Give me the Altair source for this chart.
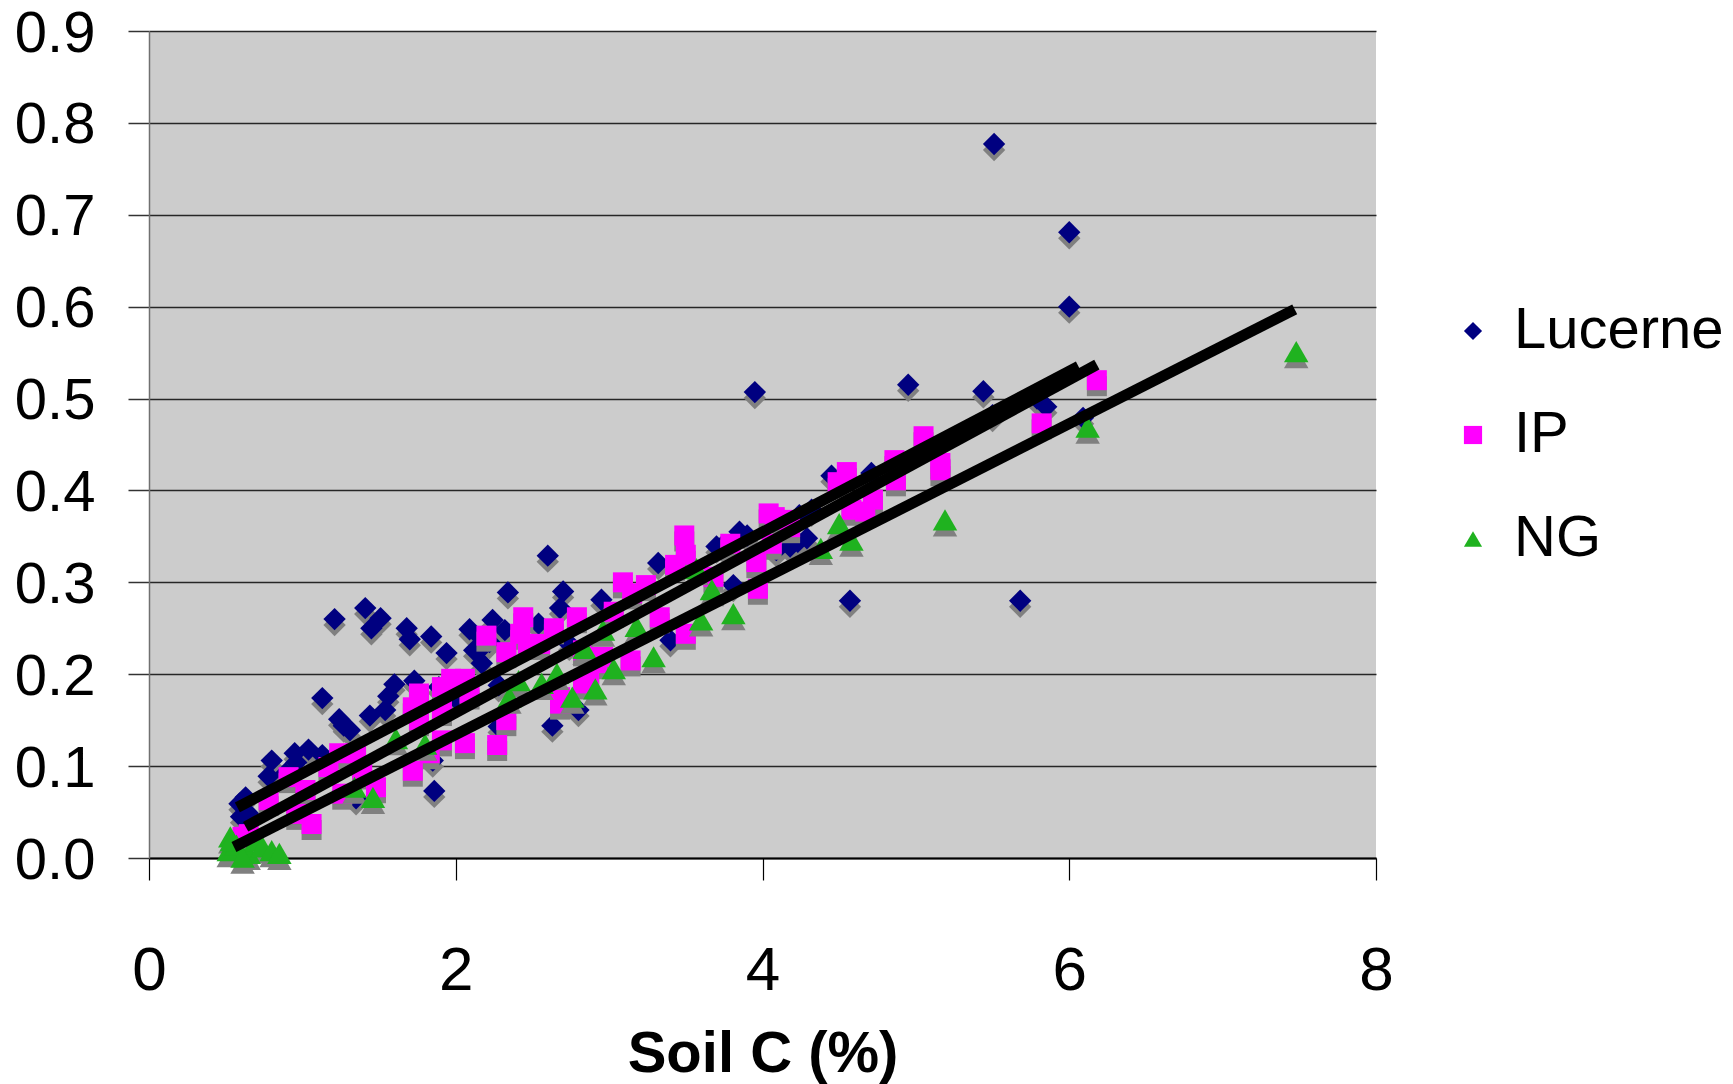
import altair as alt
import pandas as pd

# ---------------- data ----------------
lucerne_x = [5.51, 6.00, 6.00, 3.95, 4.95, 5.44, 5.85, 6.09, 5.50, 5.79,
             4.57, 5.68, 4.45, 4.71, 3.85, 3.90, 4.18, 4.29, 4.24, 3.81,
             3.70, 4.09, 3.74, 3.32, 3.40, 2.60, 2.34, 2.70, 2.68, 2.95,
             2.24, 2.09, 2.17, 2.32, 2.22, 2.14, 1.94, 2.54, 2.17, 2.28,
             2.80, 2.63, 2.74, 1.21, 1.41, 1.51, 1.45, 1.68, 1.70, 1.84,
             2.12, 1.13, 1.60, 1.56, 1.54, 1.73, 1.44, 1.24, 1.27, 1.31,
             1.04, 0.95, 0.80, 0.78, 0.96, 1.13, 1.35, 1.35, 1.86, 1.85,
             0.59, 0.63, 0.60, 0.65, 0.89, 2.01, 1.89, 4.32, 2.28, 4.23]
lucerne_y = [0.777, 0.681, 0.600, 0.507, 0.515, 0.508, 0.491, 0.479, 0.482, 0.500,
             0.280, 0.280, 0.416, 0.419, 0.355, 0.351, 0.339, 0.348, 0.373, 0.297,
             0.339, 0.335, 0.340, 0.321, 0.237, 0.329, 0.289, 0.290, 0.272, 0.281,
             0.259, 0.249, 0.239, 0.248, 0.235, 0.224, 0.223, 0.255, 0.212, 0.188,
             0.161, 0.144, 0.233, 0.260, 0.272, 0.261, 0.250, 0.250, 0.238, 0.241,
             0.226, 0.174, 0.189, 0.176, 0.161, 0.193, 0.155, 0.151, 0.144, 0.139,
             0.118, 0.114, 0.106, 0.089, 0.104, 0.112, 0.103, 0.065, 0.073, 0.106,
             0.059, 0.066, 0.045, 0.048, 0.092, 0.172, 0.186, 0.379, 0.143, 0.344]

ip_x = [0.61, 0.65, 0.78, 0.96, 1.06, 1.02, 0.91, 1.17, 1.24, 1.26,
        1.35, 1.39, 1.48, 1.72, 1.83, 1.91, 2.06, 1.76, 1.91, 1.72,
        1.76, 1.91, 1.97, 2.06, 2.09, 2.33, 2.33, 2.47, 2.42, 2.44,
        2.64, 2.79, 2.68, 2.83, 2.87, 2.96, 3.03, 3.09, 3.15, 3.24,
        3.14, 3.33, 3.50, 3.43, 3.50, 3.49, 3.79, 3.97, 3.96, 4.04,
        4.08, 4.06, 3.68, 4.18, 4.55, 4.49, 4.58, 4.72, 4.67, 4.86,
        4.87, 5.05, 5.16, 5.16, 5.82, 6.18, 2.20, 2.27, 2.68, 4.13,
        2.83, 2.55, 2.92]
ip_y = [0.023, 0.026, 0.063, 0.048, 0.037, 0.074, 0.088, 0.099, 0.114, 0.070,
        0.114, 0.092, 0.077, 0.095, 0.114, 0.128, 0.125, 0.150, 0.161, 0.164,
        0.179, 0.186, 0.195, 0.195, 0.179, 0.150, 0.224, 0.233, 0.244, 0.262,
        0.250, 0.262, 0.168, 0.190, 0.197, 0.219, 0.268, 0.300, 0.288, 0.297,
        0.215, 0.262, 0.244, 0.319, 0.330, 0.351, 0.342, 0.293, 0.322, 0.375,
        0.371, 0.342, 0.306, 0.360, 0.420, 0.409, 0.379, 0.390, 0.377, 0.433,
        0.411, 0.459, 0.430, 0.422, 0.473, 0.520, 0.242, 0.123, 0.175, 0.368,
        0.226, 0.233, 0.212]

ng_x = [0.52, 0.53, 0.57, 0.65, 0.70, 0.74, 0.80, 0.85, 0.54, 0.61,
        1.46, 1.61, 1.34, 1.80, 2.35, 2.41, 2.56, 2.66, 2.76, 2.91,
        2.84, 2.96, 3.03, 3.18, 3.29, 3.60, 3.81, 3.67, 3.57, 4.38,
        4.50, 4.58, 5.19, 6.12, 7.48]
ng_y = [0.008, 0.023, 0.014, 0.005, 0.019, 0.012, 0.008, 0.005, 0.019, 0.001,
        0.066, 0.130, 0.077, 0.124, 0.175, 0.193, 0.190, 0.201, 0.175, 0.184,
        0.228, 0.248, 0.206, 0.252, 0.219, 0.259, 0.266, 0.292, 0.315, 0.337,
        0.364, 0.346, 0.368, 0.469, 0.551]

trend_series = ["Lucerne", "Lucerne", "IP", "IP", "NG", "NG"]
trend_x = [0.576, 6.06, 0.63, 6.18, 0.554, 7.47]
trend_y = [0.055, 0.535, 0.034, 0.537, 0.012, 0.597]

series_names = ["Lucerne", "IP", "NG"]
series_colors = ["#000080", "#FF00FF", "#1FB21F"]
series_shapes = ["diamond", "square", "triangle-up"]
series_sizes = [500, 400, 600]

x_ticks = [0, 2, 4, 6, 8]
y_ticks = [0.0, 0.1, 0.2, 0.3, 0.4, 0.5, 0.6, 0.7, 0.8, 0.9]

# ---------------- tables ----------------
pts = pd.DataFrame({
    "series": ["Lucerne"] * len(lucerne_x) + ["IP"] * len(ip_x) + ["NG"] * len(ng_x),
    "x": lucerne_x + ip_x + ng_x,
    "y": lucerne_y + ip_y + ng_y,
})
trend = pd.DataFrame({"series": trend_series, "x": trend_x, "y": trend_y})

FONT = "Liberation Sans"

x_enc = alt.X("x:Q", scale=alt.Scale(domain=[0, 8], nice=False, zero=False),
              axis=alt.Axis(values=x_ticks, format="d", title="Soil C (%)", grid=False,
                            tickSize=22, tickColor="black", tickWidth=1.2,
                            domainColor="black", domainWidth=2, labelFlush=False,
                            labelPadding=60, labelFontSize=62, labelFont=FONT,
                            labelColor="black",
                            titleFont=FONT, titleFontSize=58, titleFontWeight="bold",
                            titleColor="black", titleY=213, titleBaseline="alphabetic"))
y_enc = alt.Y("y:Q", scale=alt.Scale(domain=[0, 0.9], nice=False),
              axis=alt.Axis(values=y_ticks, format=".1f", title=None, grid=True,
                            gridColor="#262626", gridWidth=1.5, labelFlush=False,
                            tickSize=21, tickColor="#333333", tickWidth=1.5,
                            domainColor="#707070", domainWidth=1.5,
                            labelPadding=33, labelFontSize=58, labelFont=FONT,
                            labelColor="black", labelOffset=3))

color_scale = alt.Scale(domain=series_names, range=series_colors)
shape_scale = alt.Scale(domain=series_names, range=series_shapes)
leg = alt.Legend(title=None, orient="none", legendX=1295, legendY=271,
                 labelFont=FONT, labelFontSize=58, labelColor="black", labelLimit=0,
                 symbolSize=330, labelOffset=12, rowPadding=46, padding=0,
                 symbolStrokeWidth=0)

layers = []
for name, shp, sz in zip(series_names, series_shapes, series_sizes):
    shadow = alt.Chart(pts).transform_filter(alt.datum.series == name).mark_point(
        shape=shp, filled=True, color="#808080", size=sz, opacity=1,
        strokeWidth=0, yOffset=6).encode(x=x_enc, y=y_enc)
    main = alt.Chart(pts).transform_filter(alt.datum.series == name).mark_point(
        filled=True, size=sz, opacity=1, strokeWidth=0).encode(
        x=x_enc, y=y_enc,
        color=alt.Color("series:N", scale=color_scale, legend=leg),
        shape=alt.Shape("series:N", scale=shape_scale, legend=leg))
    layers += [shadow, main]

lines = alt.Chart(trend).mark_line(color="black", strokeWidth=11, strokeCap="butt").encode(
    x=x_enc, y=y_enc, detail="series:N")
layers.append(lines)

chart = alt.layer(*layers).properties(
    width=1227, height=827,
    autosize=alt.AutoSizeParams(type="none"),
    padding={"left": 149, "top": 31, "right": 357, "bottom": 226},
    background="white",
).configure_view(fill="#CCCCCC", stroke=None)

chart.save("out.html", embed_options={"renderer": "svg", "actions": False})
